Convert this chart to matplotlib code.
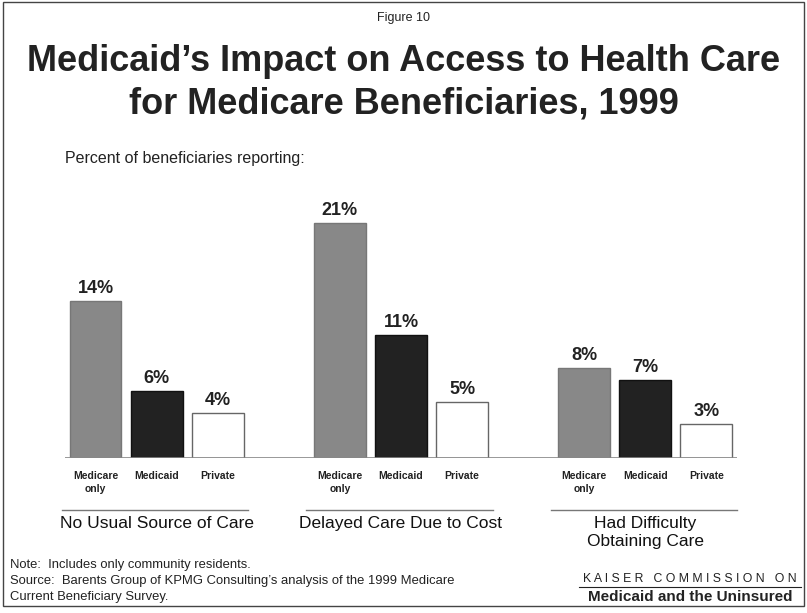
import matplotlib.pyplot as plt
from matplotlib.patches import Rectangle
import numpy as np

plt.rcParams['font.family'] = ['Liberation Sans', 'DejaVu Sans']

# data
groups = ['No Usual Source of Care', 'Delayed Care Due to Cost', 'Had Difficulty\nObtaining Care']
series = ['Medicare\nonly', 'Medicaid', 'Private']
medicare_only = [14, 21, 8]
medicaid = [6, 11, 7]
private = [4, 5, 3]

colors = ['#888888', '#222222', 'white']
edges = ['#777777', '#111111', '#666666']

fig = plt.figure(figsize=(8.07, 6.13), dpi=100)
ax = fig.add_axes([0.0805, 0.2529, 0.8327, 0.4388])

values = [medicare_only, medicaid, private]
for j, vals in enumerate(values):
    xs = np.arange(len(groups)) * 4 + j
    ax.bar(xs, vals, width=0.85, color=colors[j], edgecolor=edges[j], linewidth=1)
    for x, v in zip(xs, vals):
        ax.text(x, v + 0.35, f'{v}%', ha='center', va='bottom', fontsize=13,
                fontweight='bold', color='#222')
        ax.text(x, -1.2, series[j], ha='center', va='top', fontsize=7.5,
                fontweight='bold', color='#222', linespacing=1.3)

for g, name in enumerate(groups):
    ax.plot([g * 4 - 0.55, g * 4 + 2.5], [-4.6, -4.6], color='#777', lw=1, clip_on=False)
    ax.text(g * 4 + 1, -5.2, name, ha='center', va='top', fontsize=12.5,
            color='#111', linespacing=1.25)

ax.axhline(0, color='#888', lw=1.2)
ax.set_xlim(-0.5, 10.5)
ax.set_ylim(0, 24)
ax.axis('off')

# figure texts
fig.text(0.5, 0.970, 'Figure 10', ha='center', va='center', fontsize=9, color='#222')
fig.text(0.5, 0.900, 'Medicaid\u2019s Impact on Access to Health Care', ha='center',
         va='center', fontsize=26, fontweight='bold', color='#222')
fig.text(0.5, 0.830, 'for Medicare Beneficiaries, 1999', ha='center',
         va='center', fontsize=26, fontweight='bold', color='#222')
fig.text(0.081, 0.742, 'Percent of beneficiaries reporting:', ha='left', va='center',
         fontsize=11.5, color='#222')

fig.text(0.012, 0.078, 'Note:  Includes only community residents.', fontsize=9.4,
         va='center', color='#222')
fig.text(0.012, 0.052, 'Source:  Barents Group of KPMG Consulting\u2019s analysis of the 1999 Medicare',
         fontsize=9.4, va='center', color='#222')
fig.text(0.012, 0.026, 'Current Beneficiary Survey.', fontsize=9.4, va='center', color='#222')

fig.text(0.855, 0.056, 'K A I S E R   C O M M I S S I O N   O N', ha='center', va='center',
         fontsize=8.8, color='#222')
fig.add_artist(plt.Line2D([0.718, 0.992], [0.043, 0.043], color='#222', lw=0.8))
fig.text(0.855, 0.026, 'Medicaid and the Uninsured', ha='center', va='center',
         fontsize=11, fontweight='bold', color='#222')

fig.add_artist(Rectangle((0.004, 0.012), 0.992, 0.984, fill=False, ec='#444', lw=1,
                         transform=fig.transFigure))

fig.savefig('out.png', dpi=100)
